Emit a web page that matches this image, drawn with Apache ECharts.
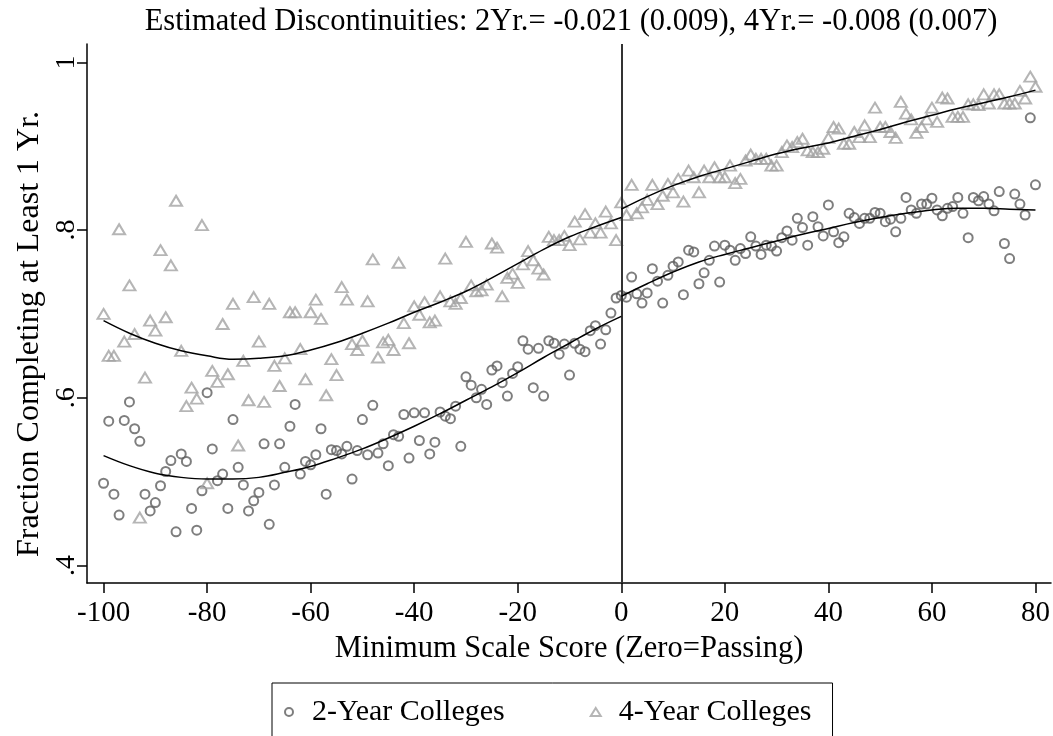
<!DOCTYPE html>
<html><head><meta charset="utf-8">
<script src="https://cdn.jsdelivr.net/npm/echarts@6/dist/echarts.min.js"></script>
<style>html,body{margin:0;padding:0;background:#fff}#c{width:1053px;height:736px}</style>
</head><body><div id="c"></div>
<script>
// Minimum scale score (x) for each binned point
const scores = [-100,-99,-98,-97,-96,-95,-94,-93,-92,-91,-90,-89,-88,-87,-86,-85,-84,-83,-82,-81,
-80,-79,-78,-77,-76,-75,-74,-73,-72,-71,-70,-69,-68,-67,-66,-65,-64,-63,-62,-61,
-60,-59,-58,-57,-56,-55,-54,-53,-52,-51,-50,-49,-48,-47,-46,-45,-44,-43,-42,-41,
-40,-39,-38,-37,-36,-35,-34,-33,-32,-31,-30,-29,-28,-27,-26,-25,-24,-23,-22,-21,
-20,-19,-18,-17,-16,-15,-14,-13,-12,-11,-10,-9,-8,-7,-6,-5,-4,-3,-2,-1,
0,1,2,3,4,5,6,7,8,9,10,11,12,13,14,15,16,17,18,19,
20,21,22,23,24,25,26,27,28,29,30,31,32,33,34,35,36,37,38,39,
40,41,42,43,44,45,46,47,48,49,50,51,52,53,54,55,56,57,58,59,
60,61,62,63,64,65,66,67,68,69,70,71,72,73,74,75,76,77,78,79,80];

const twoYear = [0.498,0.572,0.485,0.460,0.573,0.595,0.563,0.548,0.485,0.465,0.475,0.495,0.512,0.525,0.440,0.533,0.524,0.468,0.442,0.489,
0.606,0.539,0.501,0.509,0.468,0.574,0.517,0.496,0.465,0.477,0.487,0.545,0.449,0.496,0.545,0.517,0.566,0.592,0.509,0.524,
0.520,0.532,0.563,0.485,0.538,0.537,0.533,0.542,0.503,0.537,0.574,0.532,0.591,0.534,0.545,0.519,0.556,0.554,0.580,0.528,
0.582,0.549,0.582,0.533,0.547,0.583,0.578,0.575,0.590,0.542,0.625,0.615,0.600,0.610,0.592,0.633,0.638,0.618,0.602,0.629,
0.637,0.668,0.658,0.612,0.659,0.602,0.668,0.665,0.652,0.664,0.627,0.665,0.658,0.655,0.680,0.686,0.664,0.681,0.701,0.719,
0.722,0.720,0.744,0.724,0.713,0.725,0.754,0.739,0.713,0.746,0.757,0.762,0.723,0.776,0.774,0.736,0.749,0.764,0.781,0.738,
0.782,0.776,0.764,0.778,0.772,0.792,0.781,0.771,0.782,0.781,0.775,0.791,0.799,0.788,0.814,0.803,0.782,0.816,0.804,0.793,
0.830,0.798,0.785,0.792,0.820,0.815,0.808,0.814,0.814,0.821,0.820,0.810,0.813,0.798,0.814,0.839,0.824,0.820,0.831,0.831,
0.838,0.824,0.817,0.826,0.828,0.839,0.820,0.791,0.839,0.835,0.840,0.831,0.823,0.846,0.784,0.766,0.843,0.831,0.818,0.934,0.854];

const fourYear = [0.700,0.650,0.650,0.801,0.667,0.734,0.676,0.457,0.624,0.692,0.680,0.776,0.696,0.758,0.835,0.656,0.590,0.612,0.599,0.806,
0.498,0.632,0.619,0.688,0.628,0.712,0.543,0.644,0.597,0.720,0.667,0.595,0.712,0.638,0.614,0.647,0.702,0.702,0.658,0.622,
0.702,0.717,0.694,0.603,0.646,0.627,0.732,0.717,0.664,0.657,0.668,0.715,0.765,0.648,0.666,0.669,0.657,0.761,0.689,0.665,
0.709,0.699,0.714,0.690,0.692,0.721,0.766,0.715,0.712,0.719,0.786,0.734,0.727,0.728,0.735,0.784,0.779,0.721,0.743,0.748,
0.737,0.759,0.775,0.764,0.754,0.747,0.792,0.788,0.788,0.793,0.782,0.810,0.789,0.819,0.797,0.808,0.797,0.822,0.808,0.788,
0.833,0.818,0.854,0.820,0.827,0.836,0.854,0.831,0.841,0.855,0.845,0.861,0.834,0.871,0.863,0.845,0.871,0.863,0.875,0.863,
0.863,0.877,0.856,0.861,0.883,0.890,0.885,0.885,0.885,0.877,0.877,0.893,0.901,0.899,0.905,0.909,0.895,0.893,0.893,0.897,
0.910,0.923,0.921,0.903,0.903,0.917,0.911,0.925,0.911,0.946,0.923,0.923,0.917,0.910,0.953,0.939,0.932,0.916,0.923,0.932,
0.946,0.929,0.958,0.957,0.935,0.935,0.935,0.950,0.950,0.949,0.962,0.951,0.962,0.962,0.951,0.951,0.951,0.966,0.957,0.983,0.971];

// Fitted curves (left and right of the cutoff)
const fitLeftX  = [-100,-95,-90,-85,-80,-75,-70,-65,-60,-55,-50,-45,-40,-35,-30,-25,-20,-15,-10,-5,0];
const fit2Left  = [0.531,0.519,0.510,0.505,0.503,0.503,0.505,0.511,0.518,0.528,0.539,0.552,0.566,0.581,0.597,0.613,0.630,0.648,0.665,0.682,0.697];
const fit4Left  = [0.692,0.677,0.665,0.656,0.650,0.646,0.647,0.650,0.657,0.666,0.677,0.689,0.702,0.714,0.727,0.743,0.760,0.777,0.792,0.804,0.815];
const fitRightX = [0,5,10,15,20,25,30,35,40,45,50,55,60,65,70,75,80];
const fit2Right = [0.721,0.736,0.750,0.762,0.771,0.779,0.787,0.795,0.802,0.809,0.815,0.820,0.824,0.826,0.826,0.825,0.824];
const fit4Right = [0.825,0.840,0.853,0.864,0.873,0.882,0.891,0.898,0.904,0.912,0.920,0.929,0.937,0.945,0.952,0.959,0.967];

const xTicks = [-100,-80,-60,-40,-20,0,20,40,60,80];
const yTicks = [0.4,0.6,0.8,1];
const cutoff = 0;

const titleText = 'Estimated Discontinuities: 2Yr.= -0.021 (0.009), 4Yr.= -0.008 (0.007)';
const xName = 'Minimum Scale Score (Zero=Passing)';
const yName = 'Fraction Completing at Least 1 Yr.';
const seriesNames = ['2-Year Colleges', '4-Year Colleges'];

const FF = '"Liberation Serif", "Times New Roman", serif';
const zip = (xs, ys) => xs.map((x, i) => [x, ys[i]]);

const chart = echarts.init(document.getElementById('c'), null, {renderer: 'canvas'});
const fitLine = (xs, ys) => ({
  type: 'line', data: zip(xs, ys), smooth: 0.4, showSymbol: false, symbol: 'none',
  lineStyle: {color: '#000', width: 1.5}, z: 5, silent: true
});
const fitL2 = fitLine(fitLeftX, fit2Left);
fitL2.markLine = {
  silent: true, symbol: ['none', 'none'], label: {show: false},
  lineStyle: {color: '#333', width: 2, type: 'solid'},
  data: [{xAxis: cutoff}]
};

chart.setOption({
  animation: false,
  backgroundColor: '#fff',
  grid: {left: 87, right: 2, top: 44, bottom: 153, containLabel: false},
  graphic: [
    {type: 'text', x: 571, y: 22, style: {text: titleText, font: '30.5px ' + FF, fill: '#000', textAlign: 'center', textVerticalAlign: 'middle'}},
    {type: 'text', x: 30, y: 334, rotation: Math.PI / 2, style: {text: yName, font: '32px ' + FF, fill: '#000', textAlign: 'center', textVerticalAlign: 'middle'}}
  ],
  xAxis: {
    type: 'value', min: -103.2, max: 83,
    name: xName, nameLocation: 'middle', nameGap: 50,
    nameTextStyle: {fontFamily: FF, fontSize: 30.5, color: '#000'},
    axisLine: {show: true, onZero: false, lineStyle: {color: '#000', width: 1.5}},
    axisTick: {show: true, length: 10, customValues: xTicks, lineStyle: {color: '#000', width: 1.5}},
    axisLabel: {customValues: xTicks, fontFamily: FF, fontSize: 29, color: '#000', margin: 16},
    splitLine: {show: false}
  },
  yAxis: {
    type: 'value', min: 0.379, max: 1.022,
    axisLine: {show: true, onZero: false, lineStyle: {color: '#000', width: 1.5}},
    axisTick: {show: true, length: 10, customValues: yTicks, lineStyle: {color: '#000', width: 1.5}},
    axisLabel: {customValues: yTicks, rotate: 90, fontFamily: FF, fontSize: 28, color: '#000', margin: 6,
      formatter: v => (v === 1 ? '1' : String(v).replace(/^0/, ''))},
    splitLine: {show: false}
  },
  legend: {
    data: seriesNames, left: 272, top: 683, orient: 'horizontal',
    borderColor: '#000', borderWidth: 1, padding: [14, 21, 40, 12],
    itemWidth: 10, itemHeight: 8, itemGap: 85,
    textStyle: {fontFamily: FF, fontSize: 30, color: '#000', padding: [0, 0, 0, 13]}
  },
  series: [
    {name: seriesNames[0], type: 'scatter', data: zip(scores, twoYear), symbol: 'circle', symbolSize: 9,
      itemStyle: {color: 'rgba(0,0,0,0)', borderColor: '#5e5e5e', borderWidth: 2}, z: 3},
    {name: seriesNames[1], type: 'scatter', data: zip(scores, fourYear), symbol: 'triangle', symbolSize: [12, 10],
      itemStyle: {color: 'rgba(0,0,0,0)', borderColor: '#a3a3a3', borderWidth: 2}, z: 4},
    fitL2,
    fitLine(fitLeftX, fit4Left),
    fitLine(fitRightX, fit2Right),
    fitLine(fitRightX, fit4Right)
  ]
});
</script></body></html>
